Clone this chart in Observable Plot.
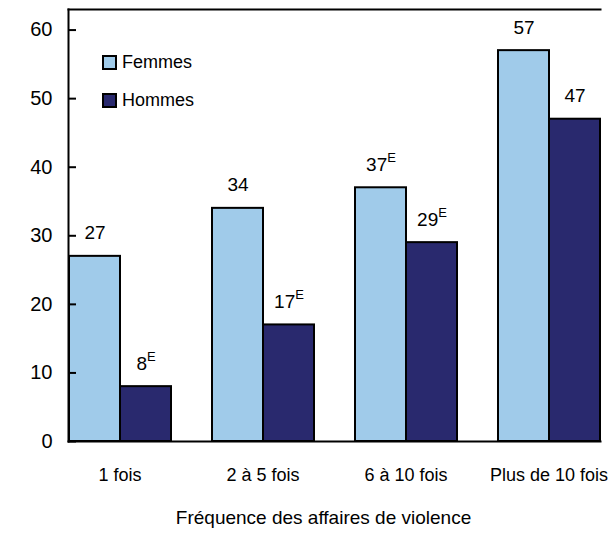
<!DOCTYPE html>
<html><head><meta charset="utf-8">
<script src="https://cdn.jsdelivr.net/npm/d3@7"></script>
<script src="https://cdn.jsdelivr.net/npm/@observablehq/plot@0.6"></script>
<style>
body{margin:0;background:#fff;font-family:"Liberation Sans",Arial,sans-serif;}
#wrap{position:relative;width:616px;height:539px;overflow:hidden;}
.item{position:absolute;left:102px;display:flex;align-items:center;font-size:18px;line-height:18px;color:#000;}
.sw{width:11px;height:11px;border:2px solid #000;margin-right:5px;}
</style></head><body><div id="wrap"></div>
<script>
const categories = ["1 fois", "2 à 5 fois", "6 à 10 fois", "Plus de 10 fois"];
const series = ["Femmes", "Hommes"];
const femmes = [27, 34, 37, 57];
const hommes = [8, 17, 29, 47];
const femmesFlag = ["", "", "E", ""];
const hommesFlag = ["E", "E", "E", ""];
const yTicks = [0, 10, 20, 30, 40, 50, 60];
const colors = ["#a0cbea", "#29296e"];
const axisTitle = "Fréquence des affaires de violence";

const rows = [];
categories.forEach((c, i) => {
  rows.push({cat: c, sex: series[0], value: femmes[i], flag: femmesFlag[i]});
  rows.push({cat: c, sex: series[1], value: hommes[i], flag: hommesFlag[i]});
});

const chart = Plot.plot({
  width: 616, height: 539,
  marginTop: 9, marginLeft: 48, marginRight: 0, marginBottom: 98,
  style: {fontFamily: "'Liberation Sans', Arial, sans-serif", fontSize: "18px", background: "white", color: "black"},
  fx: {domain: categories, range: [48, 620], paddingInner: 0.28, paddingOuter: 0.14, label: null},
  x: {domain: series, padding: 0, axis: null},
  y: {domain: [0, 63], axis: null},
  color: {domain: series, range: colors},
  marks: [
    Plot.barY(rows, {fx: "cat", x: "sex", y: "value", fill: "sex", stroke: "black", strokeWidth: 2, inset: 0}),
    Plot.text(rows, {fx: "cat", x: "sex", y: "value", text: d => d.value + (d.flag ? "^" + d.flag : ""), dy: -23, lineAnchor: "middle", fontSize: 19, fill: "black"}),
    Plot.frame({anchor: "left", facet: "super", stroke: "black", strokeWidth: 2}),
    Plot.frame({anchor: "top", facet: "super", stroke: "black", strokeWidth: 2}),
    Plot.frame({anchor: "bottom", facet: "super", stroke: "black", strokeWidth: 2}),
    Plot.axisY({ticks: yTicks, tickSize: -8, tickPadding: 24, strokeWidth: 2, fontSize: 20, label: null}),
    Plot.axisFx({anchor: "bottom", tickSize: 0, tickPadding: 27, label: null, fontSize: 18}),
    Plot.text([axisTitle], {text: d => d, frameAnchor: "bottom", facet: "super", dy: 76, dx: -11, lineAnchor: "middle", fontSize: 19, fill: "black"})
  ]
});

d3.select(chart).selectAll("text").each(function() {
  const t = this.textContent;
  const k = t.indexOf("^");
  if (k >= 0) {
    const sel = d3.select(this);
    sel.text(t.slice(0, k));
    sel.append("tspan").attr("dy", "-9").attr("font-size", 13).text(t.slice(k + 1));
  }
});

const wrap = document.getElementById("wrap");
wrap.appendChild(chart);
series.forEach((s, i) => {
  const item = document.createElement("div");
  item.className = "item";
  item.style.top = (53 + i * 38) + "px";
  item.innerHTML = `<span class="sw" style="background:${colors[i]}"></span><span>${s}</span>`;
  wrap.appendChild(item);
});
</script></body></html>
